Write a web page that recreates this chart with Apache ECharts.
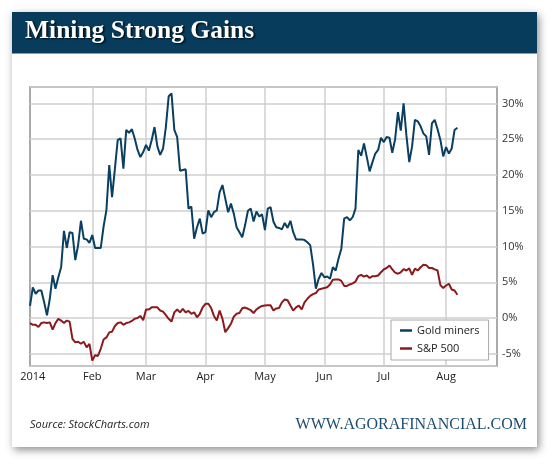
<!DOCTYPE html>
<html>
<head>
<meta charset="utf-8">
<script src="https://cdn.jsdelivr.net/npm/echarts@6/dist/echarts.min.js"></script>
<style>
html,body{margin:0;padding:0;background:#fff;}
#chart{width:554px;height:467px;}
</style>
</head>
<body>
<div id="chart"></div>
<script>
// Trading days (category axis)
const tradingDays = [
  ['2013-12', [31]],
  ['2014-01', [2,3,6,7,8,9,10,13,14,15,16,17,21,22,23,24,27,28,29,30,31]],
  ['2014-02', [3,4,5,6,7,10,11,12,13,14,18,19,20,21,24,25,26,27,28]],
  ['2014-03', [3,4,5,6,7,10,11,12,13,14,17,18,19,20,21,24,25,26,27,28,31]],
  ['2014-04', [1,2,3,4,7,8,9,10,11,14,15,16,17,21,22,23,24,25,28,29,30]],
  ['2014-05', [1,2,5,6,7,8,9,12,13,14,15,16,19,20,21,22,23,27,28,29,30]],
  ['2014-06', [2,3,4,5,6,9,10,11,12,13,16,17,18,19,20,23,24,25,26,27,30]],
  ['2014-07', [1,2,3,7,8,9,10,11,14,15,16,17,18,21,22,23,24,25,28,29,30,31]],
  ['2014-08', [1,4,5,6,7,8,11,12,13,14,15,18,19,20,21,22,25,26,27]]
];
const monthLabels = {'2014-01':'2014','2014-02':'Feb','2014-03':'Mar','2014-04':'Apr','2014-05':'May','2014-06':'Jun','2014-07':'Jul','2014-08':'Aug'};
const yTickLabels = [-5,0,5,10,15,20,25,30];

// Gold miners, % change (Dec 31 .. Aug 7)
const goldMiners = [
  1.7, 4.3, 3.4, 3.85, 3.85, 2.2, 0.4, 2.7, 6.0, 4.1, 5.7,
  7.1, 12.2, 9.8, 12.0, 11.9, 8.1, 10.2, 13.6, 11.1, 11.0,
  10.5, 11.6, 9.8, 9.8, 9.8, 12.8, 15.1, 21.4, 16.9, 20.9,
  24.9, 25.1, 20.9, 26.3, 25.9, 26.4, 25.1, 23.5, 22.5, 23.2,
  24.2, 23.4, 24.9, 26.7, 24.0, 22.8, 23.7, 26.7, 31.0, 31.4,
  26.3, 25.3, 20.6, 20.7, 20.8, 15.3, 15.6, 11.1, 12.7, 13.9,
  11.8, 12.0, 15.05, 14.1, 14.8, 15.05, 17.6, 18.6, 16.7, 14.8,
  16.0, 14.6, 12.7, 12.0, 11.3, 13.0, 15.0, 15.3, 13.5, 14.9,
  14.2, 14.5, 12.3, 15.3, 15.5, 13.5, 12.7, 12.6, 12.4, 13.3,
  12.6, 13.6, 12.0, 11.0, 11.0, 11.0, 10.9, 10.6, 10.2, 7.5,
  4.1, 5.5, 6.3, 5.7, 5.8, 5.5, 7.1, 6.65, 8.3, 9.7,
  13.9, 14.1, 13.65, 14.1, 15.3, 23.5, 22.7, 24.4, 22.5, 20.5,
  21.8, 23.0, 23.5, 25.2, 24.6, 25.3, 25.2, 23.1, 25.0, 28.8,
  26.2, 30.0, 25.5, 21.8, 24.0, 27.7, 27.5, 26.8, 25.8, 25.4,
  22.8, 27.2, 27.7, 26.4, 24.9, 22.6, 23.9, 23.0, 23.7, 26.3,
  26.6
];
// S&P 500, % change (Dec 31 .. Aug 7)
const sp500 = [
  -0.7, -0.95, -0.95, -1.25, -0.7, -0.6, -0.7, -0.6, -1.6, -0.7, -0.1,
  -0.35, -0.7, -0.35, -0.5, -2.9, -3.4, -3.3, -3.6, -3.3, -4.1,
  -3.6, -5.95, -5.2, -5.3, -4.3, -3.0, -2.7, -2.0, -1.9, -1.1,
  -0.7, -0.6, -0.95, -0.7, -0.6, -0.4, -0.1, 0.0, 0.3, -0.3,
  1.2, 1.2, 1.5, 1.5, 1.5, 1.05, 0.9, 0.4, -0.1, -0.5,
  0.8, 1.2, 0.8, 1.3, 0.8, 1.0, 0.6, 0.8, 0.1, 0.6,
  1.5, 2.0, 2.0, 1.4, 0.3, -0.35, 1.05, -0.1, -1.98, -1.4,
  -0.8, 0.2, 0.6, 0.7, 1.38, 1.47, 1.3, 1.1, 0.7, 1.2,
  1.5, 1.7, 1.75, 1.8, 1.8, 1.05, 1.35, 1.4, 2.2, 2.6,
  2.5, 1.75, 1.05, 1.5, 1.75, 1.2, 2.2, 2.7, 3.1, 3.35,
  3.5, 4.0, 4.1, 4.2, 4.3, 4.7, 5.35, 5.4, 5.4, 5.2,
  4.5, 4.5, 4.7, 4.85, 5.1, 5.85, 6.05, 5.8, 5.95, 5.6,
  5.85, 5.85, 5.95, 6.4, 6.8, 7.0, 7.35, 6.8, 6.35, 6.2,
  6.4, 6.85, 6.65, 6.95, 6.05, 6.9, 6.65, 7.1, 7.45, 7.4,
  7.0, 7.0, 6.8, 6.65, 4.6, 4.2, 4.55, 4.8, 4.0, 3.85,
  3.25
];

const categories = [];
const monthStart = {};
tradingDays.forEach(([m, days]) => {
  days.forEach((d, k) => {
    const c = m + '-' + String(d).padStart(2, '0');
    if (k === 0) monthStart[c] = m;
    categories.push(c);
  });
});
const isLabelDay = (i, v) => !!(monthStart[v] && monthLabels[monthStart[v]]);
const isGridDay = (i, v) => isLabelDay(i, v) && monthStart[v] !== '2014-01';

const chart = echarts.init(document.getElementById('chart'));
const FONT = 'Open Sans';
chart.setOption({
  animation: false,
  backgroundColor: '#ffffff',
  title: {
    text: 'Mining Strong Gains',
    left: 20, top: 13,
    textStyle: {
      color: '#ffffff', fontFamily: 'Liberation Serif', fontWeight: 'bold', fontSize: 25.5,
      textShadowColor: 'rgba(0,0,0,0.85)', textShadowBlur: 2, textShadowOffsetX: 1.5, textShadowOffsetY: 1.5
    },
    z: 10
  },
  graphic: [
    { type: 'rect', z: -10, shape: { x: 12, y: 12, width: 525, height: 435 },
      style: { fill: '#ffffff', shadowBlur: 8, shadowColor: 'rgba(0,0,0,0.45)', shadowOffsetX: 2, shadowOffsetY: 3 } },
    { type: 'rect', z: -9, shape: { x: 12, y: 12, width: 525, height: 41.5 },
      style: { fill: '#083c5d' } },
    { type: 'text', x: 30, y: 425, z: 5,
      style: { text: 'Source: StockCharts.com', fill: '#222', font: 'italic 11px "Open Sans"', verticalAlign: 'middle', align: 'left' } },
    { type: 'text', x: 527, y: 425, z: 5,
      style: { text: 'WWW.AGORAFINANCIAL.COM', fill: '#1d4d6e', font: '16px "Liberation Serif"', verticalAlign: 'middle', align: 'right' } }
  ],
  legend: {
    data: ['Gold miners', 'S&P 500'],
    orient: 'vertical',
    left: 391, top: 320,
    backgroundColor: '#ffffff',
    borderColor: '#a8a8a8', borderWidth: 1, borderRadius: 0,
    padding: [5, 9, 6, 9],
    itemGap: 7,
    itemWidth: 12, itemHeight: 2.5,
    icon: 'rect',
    textStyle: { fontFamily: FONT, fontSize: 11, color: '#222', padding: [0, 0, 0, 0] }
  },
  grid: {
    left: 30, top: 87, right: 57, bottom: 101,
    show: true, borderColor: '#8f8f8f', borderWidth: 1.5, backgroundColor: 'transparent'
  },
  xAxis: {
    type: 'category',
    data: categories,
    boundaryGap: false,
    axisLine: { show: false },
    axisTick: { show: false },
    axisLabel: {
      interval: isLabelDay,
      formatter: (v) => monthLabels[monthStart[v]] || '',
      fontFamily: FONT, fontSize: 11, color: '#222', margin: 5
    },
    splitLine: { show: true, interval: isGridDay, lineStyle: { color: '#cfcfcf', width: 1.5 } }
  },
  yAxis: {
    type: 'value',
    position: 'right',
    min: -6.7, max: 32.3,
    splitNumber: 8,
    axisLine: { show: false },
    axisTick: { show: false },
    axisLabel: {
      showMinLabel: false, showMaxLabel: false,
      formatter: (v) => yTickLabels.some(t => Math.abs(t - v) < 1e-6) ? Math.round(v) + '%' : '',
      fontFamily: FONT, fontSize: 11, color: '#333', margin: 5
    },
    splitLine: { show: true, lineStyle: { color: '#cfcfcf', width: 1.5 } }
  },
  series: [
    { name: 'Gold miners', type: 'line', data: goldMiners, symbol: 'none', z: 3,
      color: '#0b3f61', lineStyle: { width: 2, color: '#0b3f61' } },
    { name: 'S&P 500', type: 'line', data: sp500, symbol: 'none', z: 2,
      color: '#8b1a1c', lineStyle: { width: 2, color: '#8b1a1c' } }
  ]
});
</script>
</body>
</html>
